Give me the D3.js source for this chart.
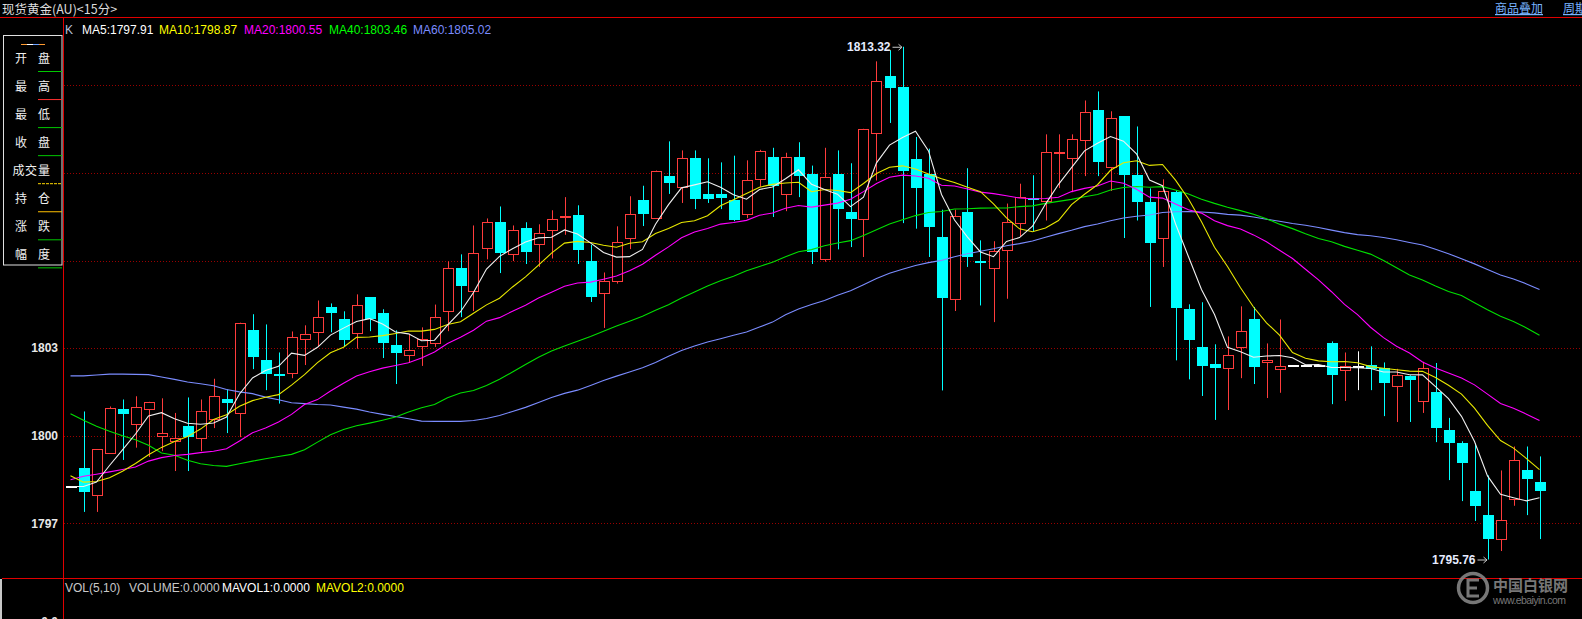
<!DOCTYPE html>
<html><head><meta charset="utf-8">
<script src="https://cdn.jsdelivr.net/npm/d3@7"></script>
<style>html,body{margin:0;padding:0;background:#000;overflow:hidden}svg{display:block}</style>
</head><body>
<svg id="c" width="1582" height="619"></svg>
<script>
// ---- data (index 0 is the partly visible first bar) ----
const opens=[1798.26,1798.88,1797.98,1799.42,1800.90,1800.41,1800.92,1800.00,1799.83,1800.32,1799.93,
1800.58,1801.24,1800.79,1803.61,1802.58,1802.13,1802.15,1803.32,1803.56,1804.42,
1803.98,1803.53,1804.74,1804.19,1803.09,1802.77,1803.08,1803.18,1804.28,1805.76,
1804.97,1806.44,1807.31,1806.23,1807.10,1806.58,1807.05,1807.50,1807.55,1806.00,
1804.90,1805.31,1806.78,1808.06,1807.47,1808.88,1808.53,1809.50,1808.29,1808.29,
1808.06,1807.60,1808.80,1809.55,1808.29,1809.55,1808.97,1806.05,1808.97,1807.65,
1807.42,1810.38,1812.31,1811.93,1809.46,1808.97,1806.79,1804.69,1807.65,1806.00,
1805.74,1806.36,1807.29,1808.15,1808.04,1809.68,1809.52,1810.14,1811.14,1809.21,
1810.94,1808.92,1807.99,1806.77,1808.34,1804.33,1803.03,1802.44,1802.33,1803.04,
1803.98,1802.53,1802.29,1802.40,1802.40,1802.40,1803.16,1802.26,1802.35,1802.43,
1802.33,1801.71,1802.03,1801.20,1801.48,1800.18,1799.74,1798.09,1797.27,1796.46,
1797.84,1798.81,1798.40];
const highs=[1798.26,1800.83,1799.53,1801.00,1801.24,1801.35,1801.16,1801.28,1800.78,1801.31,1801.24,
1801.95,1801.59,1803.87,1804.16,1803.81,1802.85,1803.57,1803.78,1804.63,1804.53,
1804.26,1804.84,1804.74,1804.33,1803.61,1803.49,1803.71,1804.49,1805.97,1806.21,
1807.20,1807.44,1807.85,1807.20,1807.31,1807.24,1807.72,1808.17,1807.89,1806.54,
1805.59,1807.17,1808.20,1808.56,1809.08,1810.08,1809.77,1809.77,1809.50,1809.36,
1809.59,1809.43,1809.79,1809.86,1809.69,1810.05,1809.25,1809.86,1809.77,1809.33,
1810.51,1812.82,1813.20,1813.32,1810.23,1809.83,1807.74,1807.74,1809.16,1806.69,
1806.66,1807.95,1808.63,1808.92,1810.32,1810.32,1810.32,1811.48,1811.79,1811.11,
1810.94,1810.59,1808.47,1808.78,1808.41,1804.50,1804.57,1803.13,1803.40,1804.43,
1804.41,1803.16,1803.98,1802.40,1802.40,1802.40,1803.23,1802.85,1802.89,1803.06,
1802.51,1802.29,1802.07,1802.53,1802.49,1800.61,1799.81,1799.73,1798.64,1798.81,
1799.63,1799.63,1799.29];
const lows=[1798.26,1797.39,1797.39,1799.42,1799.17,1799.59,1799.27,1799.47,1798.79,1798.79,1799.47,
1800.26,1800.09,1799.95,1802.28,1801.56,1801.10,1801.97,1802.42,1803.04,1803.54,
1803.06,1802.98,1803.58,1802.66,1801.77,1802.49,1802.39,1803.04,1803.58,1804.06,
1804.27,1806.04,1805.57,1805.98,1805.88,1805.78,1806.07,1806.88,1805.88,1804.58,
1803.69,1805.21,1806.39,1807.18,1807.47,1808.28,1807.97,1807.76,1807.97,1807.76,
1807.35,1807.45,1808.52,1807.49,1807.69,1808.17,1805.88,1805.96,1806.38,1806.46,
1806.12,1808.74,1810.71,1807.28,1807.09,1806.12,1801.55,1804.27,1805.78,1804.46,
1803.89,1804.69,1806.83,1807.00,1807.37,1808.48,1808.34,1808.89,1808.89,1808.38,
1806.77,1807.37,1804.41,1805.78,1802.58,1801.93,1801.36,1800.54,1800.88,1801.97,
1801.77,1801.29,1801.47,1802.40,1802.40,1802.40,1801.08,1801.19,1801.56,1801.56,
1800.67,1800.47,1800.47,1800.78,1799.78,1798.48,1797.76,1797.08,1795.76,1796.05,
1797.60,1797.28,1796.46];
const closes=[1798.26,1798.07,1799.53,1800.96,1800.74,1800.99,1801.16,1800.10,1799.93,1799.95,1800.83,
1801.37,1801.12,1803.87,1802.69,1802.12,1802.08,1803.37,1803.49,1804.08,1804.20,
1803.28,1804.49,1804.00,1803.17,1802.83,1802.95,1803.32,1804.08,1805.75,1805.13,
1806.24,1807.33,1806.26,1807.05,1806.29,1806.95,1807.43,1807.52,1806.36,1804.75,
1805.31,1806.64,1807.60,1807.59,1809.08,1808.65,1809.52,1808.11,1808.11,1808.14,
1807.37,1808.77,1809.76,1808.56,1809.55,1808.89,1806.29,1808.87,1807.76,1807.42,
1810.51,1812.16,1811.91,1809.06,1808.48,1807.15,1804.71,1807.53,1806.12,1805.95,
1806.34,1807.33,1808.18,1808.08,1809.73,1809.73,1810.17,1811.07,1809.37,1810.89,
1808.93,1808.00,1806.60,1808.39,1804.37,1803.28,1802.39,1802.32,1802.77,1803.60,
1802.35,1802.60,1802.40,1802.40,1802.40,1802.40,1802.08,1802.40,1802.35,1802.27,
1801.80,1802.09,1801.92,1802.33,1800.26,1799.75,1799.06,1797.59,1796.46,1797.10,
1799.18,1798.52,1798.11];
// moving-average values for bars whose window starts before the first shown bar
const ma5Lead=[1798.26,1798.26,1798.41,1798.98];
const ma10Lead=[1798.63,1798.41,1798.43,1798.56,1798.78,1799.05,1799.35,1799.60,1799.80];
const ma20Lead=[1798.49,1798.61,1798.68,1798.76,1798.84,1798.93,1799.13,1799.25,1799.32,1799.36,
1799.42,1799.47,1799.55,1799.82,1800.10,1800.26,1800.47,1800.73,1801.07];
const ma40Lead=[1800.75,1800.53,1800.32,1800.15,1800.00,1799.86,1799.67,1799.41,1799.33,1799.16,
1799.04,1798.98,1798.95,1799.04,1799.13,1799.21,1799.29,1799.36,1799.52,1799.78,
1800.03,1800.21,1800.34,1800.43,1800.53,1800.64,1800.81,1800.96,1801.07,1801.30,
1801.46,1801.55,1801.72,1801.93,1802.18,1802.44,1802.69,1802.90,1803.07];
const ma60Lead=[1802.05,1802.05,1802.08,1802.11,1802.11,1802.10,1802.09,1802.01,1801.93,1801.84,
1801.78,1801.71,1801.58,1801.50,1801.44,1801.32,1801.23,1801.13,1801.10,1801.07,
1801.05,1800.98,1800.91,1800.81,1800.73,1800.66,1800.58,1800.50,1800.49,1800.49,
1800.49,1800.52,1800.59,1800.69,1800.83,1800.97,1801.14,1801.31,1801.45,1801.56,
1801.72,1801.89,1802.04,1802.18,1802.33,1802.51,1802.72,1802.92,1803.07,1803.21,
1803.32,1803.44,1803.55,1803.72,1803.89,1804.14,1804.34,1804.49,1804.63];
const gridValues=[1797,1800,1803,1806,1809,1812];
const tickLabels=[1797,1800,1803];
const legendItems=[
 {t:"K",c:"#b8c0d8"},{t:"MA5:1797.91",c:"#ffffff"},{t:"MA10:1798.87",c:"#ffff00"},
 {t:"MA20:1800.55",c:"#ff00ff"},{t:"MA40:1803.46",c:"#00ff00"},{t:"MA60:1805.02",c:"#7b8cff"}];
const volItems=[{t:"VOL(5,10)",c:"#c8c8c8"},{t:"VOLUME:0.0000",c:"#c8c8c8"},{t:"MAVOL1:0.0000",c:"#ffffff"},{t:"MAVOL2:0.0000",c:"#ffff00"}];
const panelRows=[["开","盘"],["最","高"],["最","低"],["收","盘"],["成","交","量"],["持","仓"],["涨","跌"],["幅","度"]];
const panelDash=["#00c800","#ff3030","#00c800","#00c800","#ffd700","#ffc000","#00c800","#00c800"];
const markHigh={i:63,label:"1813.32"}, markLow={i:108,label:"1795.76"};

// ---- drawing ----
const W=1582,H=619;
const svg=d3.select("#c");
const n=closes.length;
const x=d3.scaleLinear().domain([0,n-1]).range([70.5,70.5+13*(n-1)]);
const y=d3.scaleLinear().domain([1797,1812]).range([523.3,85.3]);
const FONT="'Liberation Sans',Arial,sans-serif";
const CJK="'Noto Sans CJK SC',sans-serif";

svg.append("rect").attr("width",W).attr("height",H).attr("fill","#000");

// grid
svg.append("g").selectAll("line").data(gridValues).join("line")
 .attr("x1",64).attr("x2",W).attr("y1",d=>Math.round(y(d))+0.5).attr("y2",d=>Math.round(y(d))+0.5)
 .attr("stroke","#9a0000").attr("stroke-dasharray","1,2");

// clip for plot
svg.append("clipPath").attr("id","pc").append("rect").attr("x",64).attr("y",19).attr("width",W-64).attr("height",558);
const plot=svg.append("g").attr("clip-path","url(#pc)");

const RED="#ff3c3c",CYAN="#00ffff",WHITE="#ffffff";
const bars=d3.range(n).map(j=>({j,o:opens[j],h:highs[j],l:lows[j],c:closes[j]}));
const cx=j=>Math.round(x(j))+0.5;
bars.forEach(b=>{
  const X=cx(b.j);
  const yo=y(b.o),yc=y(b.c),yh=y(b.h),yl=y(b.l);
  if(b.c>b.o){
    const top=Math.round(yc)+0.5,bot=Math.round(yo)+0.5;
    const hh=Math.max(bot-top,1);
    plot.append("line").attr("x1",X).attr("x2",X).attr("y1",yh).attr("y2",top).attr("stroke",RED);
    plot.append("line").attr("x1",X).attr("x2",X).attr("y1",top+hh).attr("y2",yl).attr("stroke",RED);
    plot.append("rect").attr("x",X-5).attr("y",top).attr("width",10).attr("height",hh)
      .attr("fill","#000").attr("stroke",RED).attr("shape-rendering","crispEdges");
  } else if(b.c<b.o){
    plot.append("line").attr("x1",X).attr("x2",X).attr("y1",yh).attr("y2",yl).attr("stroke",CYAN);
    const top=Math.round(yo),hh=Math.max(Math.round(yc)-top,2);
    plot.append("rect").attr("x",X-5.5).attr("y",top).attr("width",11).attr("height",hh)
      .attr("fill",CYAN).attr("shape-rendering","crispEdges");
  } else {
    if(b.h>b.l) plot.append("line").attr("x1",X).attr("x2",X).attr("y1",yh).attr("y2",yl).attr("stroke",WHITE);
    plot.append("rect").attr("x",X-5.5).attr("y",Math.round(yo)-1).attr("width",11).attr("height",2)
      .attr("fill",WHITE).attr("shape-rendering","crispEdges");
  }
});

// moving averages (computed from closes, leading values)
function ma(p,lead){return closes.map((c,j)=> j<p-1 ? lead[j] : d3.mean(closes.slice(j-p+1,j+1)));}
const maSeries=[
 {v:ma(60,ma60Lead),c:"#7b8cff"},{v:ma(40,ma40Lead),c:"#00e000"},
 {v:ma(20,ma20Lead),c:"#ff00ff"},{v:ma(10,ma10Lead),c:"#e8e800"},{v:ma(5,ma5Lead),c:"#f0f0f0"}];
const line=d3.line().x((d,j)=>x(j)).y(d=>y(d));
maSeries.forEach(s=>plot.append("path").attr("d",line(s.v)).attr("fill","none").attr("stroke",s.c).attr("stroke-width",1.1));

// extreme markers
function marker(m,val){
  const X=cx(m.i+1), Y=y(val);
  svg.append("text").attr("x",X-13).attr("y",Y+4.5).attr("text-anchor","end")
    .attr("font-family",FONT).attr("font-size",12).attr("font-weight","bold").attr("fill","#e6ecff").text(m.label);
  svg.append("line").attr("x1",X-11).attr("x2",X-2).attr("y1",Y+0.5).attr("y2",Y+0.5).attr("stroke","#c8c8c8");
  svg.append("path").attr("d",`M${X-5},${Y-2.5}L${X-1.5},${Y+0.5}L${X-5},${Y+3.5}`).attr("fill","none").attr("stroke","#c8c8c8");
}
marker(markHigh,highs[markHigh.i+1]);
marker(markLow,lows[markLow.i+1]);

// frame lines
svg.append("line").attr("x1",0).attr("x2",W).attr("y1",17.5).attr("y2",17.5).attr("stroke","#e00000");
svg.append("line").attr("x1",2).attr("x2",W).attr("y1",578.5).attr("y2",578.5).attr("stroke","#e00000");
svg.append("line").attr("x1",63.5).attr("x2",63.5).attr("y1",18).attr("y2",H).attr("stroke","#e00000");
svg.append("rect").attr("x",0).attr("y",579).attr("width",2).attr("height",40).attr("fill","#c8c8c8");

// y axis labels
const ax=svg.append("g").attr("transform","translate(58,0)")
 .call(d3.axisLeft(y).tickValues(tickLabels).tickSize(0).tickPadding(0).tickFormat(d3.format("d")));
ax.select(".domain").remove();
ax.selectAll("text").attr("font-family",FONT).attr("font-size",12).attr("font-weight","bold").attr("fill","#e8e8e8");
svg.append("text").attr("x",58).attr("y",626).attr("text-anchor","end").attr("font-family",FONT)
 .attr("font-size",12).attr("font-weight","bold").attr("fill","#e8e8e8").text("0.0");

// header
svg.append("text").attr("x",2).attr("y",13.5).attr("font-family",CJK).attr("font-size",12.5).attr("fill","#dcdcdc").text("现货黄金(AU)<15分>");
svg.append("text").attr("x",1495).attr("y",13).attr("font-family",CJK).attr("font-size",12).attr("fill","#78b4ff").attr("text-decoration","underline").text("商品叠加");
svg.append("text").attr("x",1563).attr("y",13).attr("font-family",CJK).attr("font-size",12).attr("fill","#78b4ff").attr("text-decoration","underline").text("周期");

// MA legend
const legX=[65,82,159,244,329,413];
legendItems.forEach((d,k)=>svg.append("text").attr("x",legX[k]).attr("y",34).attr("font-family",FONT).attr("font-size",12).attr("fill",d.c).text(d.t));

// volume legend
const volX=[65,129,222,316];
volItems.forEach((d,k)=>svg.append("text").attr("x",volX[k]).attr("y",591.5).attr("font-family",FONT).attr("font-size",12).attr("fill",d.c).text(d.t));

// info panel
svg.append("rect").attr("x",3.5).attr("y",35.5).attr("width",58.5).attr("height",229.5).attr("fill","#000").attr("stroke","#e0e0e0");
[["#ff9a30",21],["#ffffff",27],["#6aa0ff",33],["#ff9a30",39]].forEach(d=>svg.append("line").attr("x1",d[1]).attr("x2",d[1]+6).attr("y1",44.5).attr("y2",44.5).attr("stroke",d[0]));
panelRows.forEach((r,k)=>{
  const yy=62.5+k*28;
  const xs=r.length===3?[18.5,31,44]:[21,44];
  r.forEach((ch,q)=>svg.append("text").attr("x",xs[q]).attr("y",yy).attr("text-anchor","middle")
    .attr("font-family",CJK).attr("font-size",12).attr("fill","#f0f0f0").text(ch));
  svg.append("line").attr("x1",38).attr("x2",62).attr("y1",71.5+k*28.05).attr("y2",71.5+k*28.05)
    .attr("stroke",panelDash[k]).attr("stroke-dasharray",k===4?"3,1":null);
});

// watermark
const wm=svg.append("g").attr("opacity",0.85);
wm.append("circle").attr("cx",1473).attr("cy",588).attr("r",14.5).attr("fill","none").attr("stroke","#8c8c8c").attr("stroke-width",3.5);
wm.append("path").attr("d","M1479,580H1468V596H1479M1468,588H1477").attr("fill","none").attr("stroke","#8c8c8c").attr("stroke-width",3);
wm.append("text").attr("x",1493).attr("y",591).attr("font-family",CJK).attr("font-size",15).attr("font-weight","bold").attr("fill","#8c8c8c").text("中国白银网");
wm.append("text").attr("x",1493).attr("y",604).attr("font-family",FONT).attr("font-size",10.5).attr("fill","#8c8c8c").attr("textLength",73).text("www.ebaiyin.com");
</script>
</body></html>
